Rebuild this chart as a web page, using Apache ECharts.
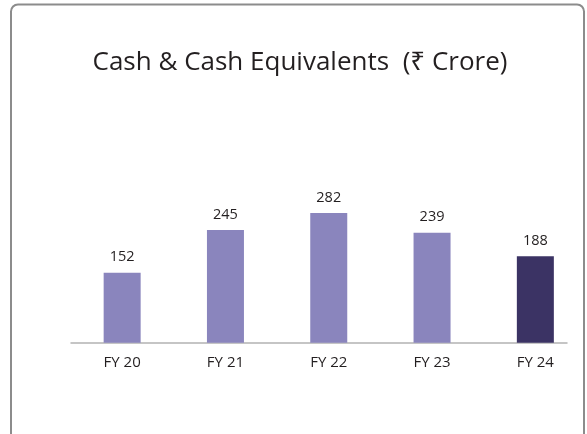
<!DOCTYPE html>
<html>
<head>
<meta charset="utf-8">
<script src="https://cdn.jsdelivr.net/npm/echarts@6/dist/echarts.min.js"></script>
<style>
  html, body { margin: 0; padding: 0; background: #fff; }
  #chart { width: 587px; height: 434px; }
</style>
</head>
<body>
<div id="chart"></div>
<script>
// data
var years = ['FY 20', 'FY 21', 'FY 22', 'FY 23', 'FY 24'];
var cash = [152, 245, 282, 239, 188];
var barColors = ['#8a85bd', '#8a85bd', '#8a85bd', '#8a85bd', '#3b3364'];

var font = '"Open Sans", "Noto Sans", sans-serif';

var chart = echarts.init(document.getElementById('chart'));

var option = {
    backgroundColor: '#fff',
    animation: false,
    title: {
        text: 'Cash & Cash Equivalents  (₹ Crore)',
        left: 295,
        textAlign: 'center',
        top: 45,
        textStyle: { fontFamily: font, fontSize: 26, fontWeight: 'normal', color: '#231f20' }
    },
    graphic: [{
        type: 'rect',
        shape: { x: 11, y: 4.5, width: 573, height: 440, r: 7 },
        style: { fill: 'none', stroke: '#8c8c8c', lineWidth: 2 },
        z: 0
    }],
    // grid 0 holds the bars, grid 1 only draws the shorter baseline
    grid: [
        { left: 70.5, width: 520, top: 204.7, bottom: 91.3 },
        { left: 71, width: 496, top: 204.7, bottom: 91.3 }
    ],
    xAxis: [{
        type: 'category',
        gridIndex: 0,
        data: years,
        axisLine: { show: false },
        axisTick: { show: false },
        axisLabel: { margin: 13, fontFamily: font, fontSize: 15, color: '#231f20' }
    }, {
        type: 'category',
        gridIndex: 1,
        data: years,
        axisLine: { show: true, lineStyle: { color: '#b3b3b3', width: 1.5 } },
        axisTick: { show: false },
        axisLabel: { show: false }
    }],
    yAxis: [{
        type: 'value',
        gridIndex: 0,
        min: 0,
        max: 300,
        show: false
    }, {
        type: 'value',
        gridIndex: 1,
        min: 0,
        max: 300,
        show: false
    }],
    series: [{
        type: 'bar',
        xAxisIndex: 0,
        yAxisIndex: 0,
        barWidth: 37,
        data: cash.map(function (v, i) {
            return { value: v, itemStyle: { color: barColors[i] } };
        }),
        label: {
            show: true,
            position: 'top',
            distance: 8,
            fontFamily: font,
            fontSize: 14.5,
            color: '#231f20'
        }
    }]
};

chart.setOption(option);
</script>
</body>
</html>
